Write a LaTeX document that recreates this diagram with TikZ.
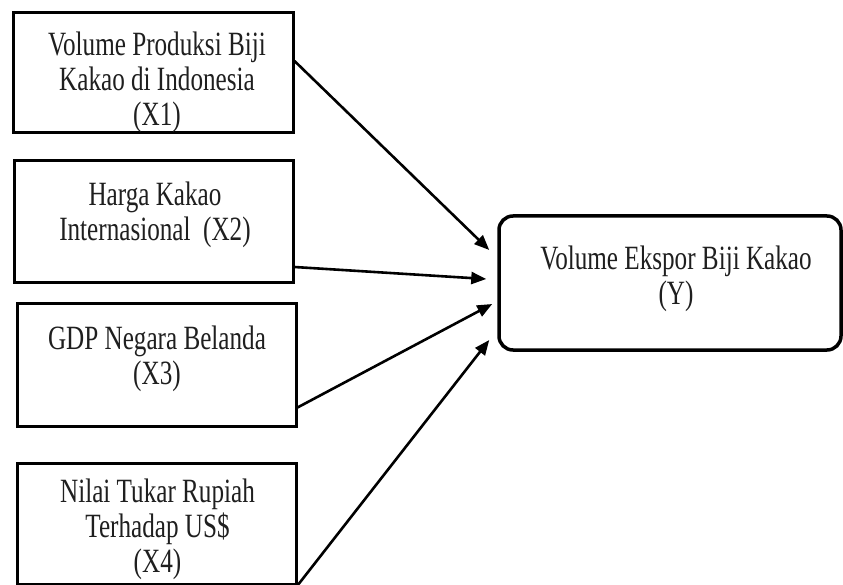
\documentclass[tikz,border=0pt]{standalone}
\usepackage{fontspec}
\usetikzlibrary{arrows.meta,calc}
\newfontfamily\diagfont[FakeStretch=0.74]{Liberation Serif}
\begin{document}
\begin{tikzpicture}[x=1pt,y=-1pt,
  box/.style={draw=black,line width=3pt,inner sep=0pt},
  ybox/.style={draw=black,line width=3.5pt,rounded corners=14pt,inner sep=0pt},
  txt/.style={align=center,font=\diagfont\fontsize{34}{35}\selectfont,text=black!88,inner sep=0pt},
  conn/.style={line width=2.6pt,-{Triangle[length=15pt,width=12pt]}}
]
\useasboundingbox (0,0) rectangle (843,585);
\fill[white] (0,0) rectangle (843,585);
% boxes
\node[box,minimum width=280pt,minimum height=120pt] (b1) at (153,73) {};
\node[box,minimum width=279pt,minimum height=122pt] (b2) at (153.5,222) {};
\node[box,minimum width=279pt,minimum height=123pt] (b3) at (156.5,364.5) {};
\node[box,minimum width=279pt,minimum height=121pt] (b4) at (156.5,523.5) {};
\node[ybox,minimum width=342pt,minimum height=134pt] (y) at (670,283) {};
% texts
\node[txt] (t1) at (157,82) {Volume Produksi Biji\\Kakao di Indonesia\\(X1)};
\node[txt] (t2) at (155,215) {Harga Kakao\\Internasional~ (X2)};
\node[txt] (t3) at (157,359) {GDP Negara Belanda\\(X3)};
\node[txt] (t4) at (157.5,529) {Nilai Tukar Rupiah\\Terhadap US\$\\(X4)};
\node[txt] (ty) at (676,278.5) {Volume Ekspor Biji Kakao\\(Y)};
% connector ends
\coordinate (s1) at ([yshift=12pt]b1.east);
\coordinate (s2) at ([yshift=-45pt]b2.east);
\coordinate (s3) at ([yshift=-43pt]b3.east);
\coordinate (s4) at (b4.south east);
\coordinate (e1) at ([xshift=-8pt,yshift=33pt]y.west);
\coordinate (e2) at ([xshift=-11pt,yshift=4pt]y.west);
\coordinate (e3) at ([xshift=-5pt,yshift=-21pt]y.west);
\coordinate (e4) at ([xshift=-8pt,yshift=-57pt]y.west);
\draw[conn] (s1) -- (e1);
\draw[conn] (s2) -- (e2);
\draw[conn] (s3) -- (e3);
\draw[conn] (s4) -- (e4);
\end{tikzpicture}
\end{document}
